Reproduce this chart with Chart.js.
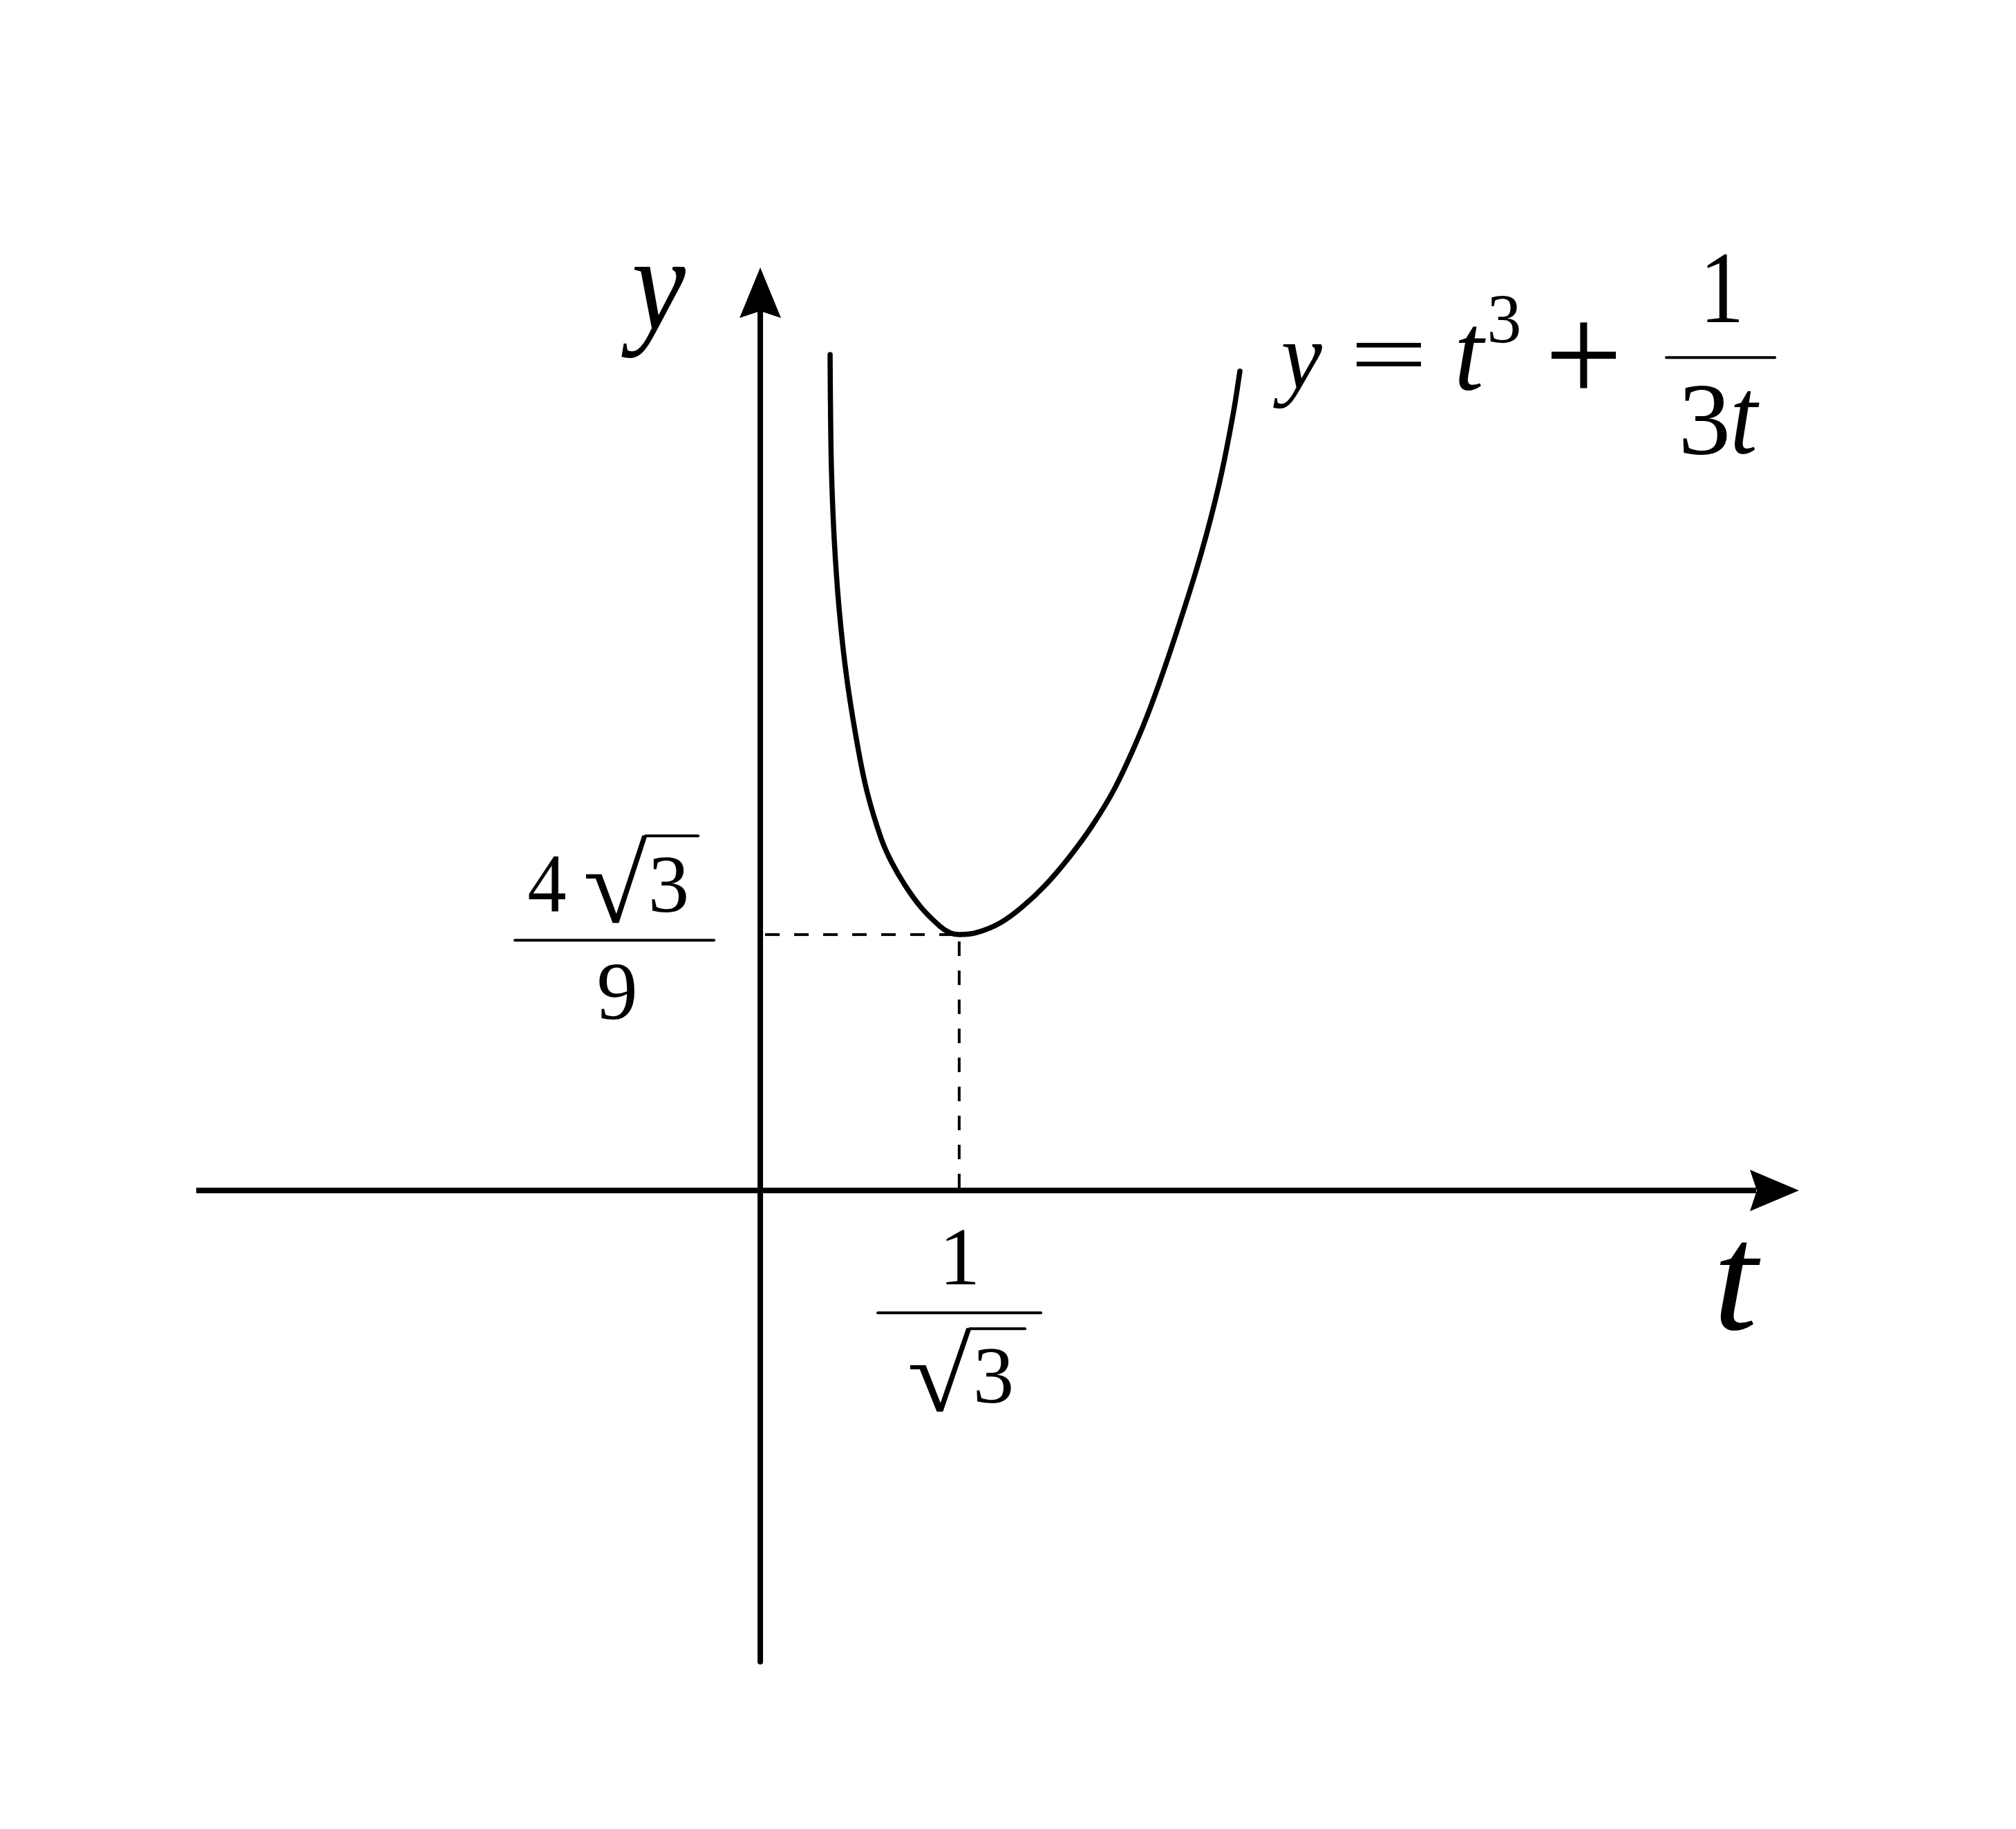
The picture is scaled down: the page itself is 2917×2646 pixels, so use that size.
<!DOCTYPE html>
<html>
<head>
<meta charset="utf-8">
<script src="https://cdn.jsdelivr.net/npm/chart.js@4.4.1/dist/chart.umd.min.js"></script>
<style>
  html, body { margin: 0; padding: 0; background: #fff; }
  canvas { display: block; }
</style>
</head>
<body>
<canvas id="graph" width="2917" height="2646"></canvas>
<script>
const tValues = [0.2025, 0.2035, 0.2065, 0.2145, 0.2286, 0.2506, 0.2827, 0.3107, 0.3508, 0.3809, 0.4190, 0.4671, 0.5213, 0.5513, 0.5774, 0.6275, 0.6957, 0.7618, 0.8280, 0.8962, 0.9623, 1.0285, 1.0966, 1.1488, 1.2169, 1.2791, 1.3312, 1.3713, 1.3913];
const yValues = [2.516, 2.376, 2.168, 1.960, 1.752, 1.544, 1.336, 1.196, 1.059, 0.988, 0.920, 0.851, 0.795, 0.775, 0.770, 0.776, 0.805, 0.855, 0.920, 1.003, 1.097, 1.211, 1.363, 1.502, 1.710, 1.918, 2.127, 2.335, 2.466];

// minimum point: t = 1/sqrt(3), y = 4*sqrt(3)/9
const tMin = 0.577;
const yMin = 0.770;

// axis extents
const tRange = [-1.636, 3.013];
const yRange = [-1.427, 2.778];

const FONT = '"Liberation Serif", "Times New Roman", serif';

// draw a glyph stretched to fill a box (offsets from origin)
function fit(ctx, text, style, ox, oy, b) {
  const base = 200;
  ctx.save();
  ctx.font = style + ' ' + base + 'px ' + FONT;
  ctx.textAlign = 'left';
  ctx.textBaseline = 'alphabetic';
  const m = ctx.measureText(text);
  const w = m.actualBoundingBoxLeft + m.actualBoundingBoxRight;
  const h = m.actualBoundingBoxAscent + m.actualBoundingBoxDescent;
  ctx.translate(ox + b[0], oy + b[1]);
  ctx.scale((b[2] - b[0]) / w, (b[3] - b[1]) / h);
  ctx.fillText(text, m.actualBoundingBoxLeft, m.actualBoundingBoxAscent);
  ctx.restore();
}

function bar(ctx, ox, oy, x0, x1, y, lw) {
  ctx.lineWidth = lw;
  ctx.beginPath();
  ctx.moveTo(ox + x0, oy + y);
  ctx.lineTo(ox + x1, oy + y);
  ctx.stroke();
}

const decor = {
  id: 'decor',
  afterDatasetsDraw(chart) {
    const ctx = chart.ctx;
    const xs = chart.scales.x, ys = chart.scales.y;
    const ox = xs.getPixelForValue(0), oy = ys.getPixelForValue(0);
    const left = xs.getPixelForValue(tRange[0]), right = xs.getPixelForValue(tRange[1]);
    const top = ys.getPixelForValue(yRange[1]), bottom = ys.getPixelForValue(yRange[0]);
    ctx.save();
    ctx.strokeStyle = '#000';
    ctx.fillStyle = '#000';

    // axes
    ctx.lineWidth = 8;
    ctx.lineCap = 'butt';
    ctx.beginPath();
    ctx.moveTo(left, oy);
    ctx.lineTo(right - 62, oy);
    ctx.stroke();
    ctx.lineCap = 'round';
    ctx.beginPath();
    ctx.moveTo(ox, bottom - 4);
    ctx.lineTo(ox, top + 63);
    ctx.stroke();

    // arrow heads
    ctx.beginPath();
    ctx.moveTo(right, oy);
    ctx.lineTo(right - 71, oy - 30);
    ctx.lineTo(right - 61, oy);
    ctx.lineTo(right - 71, oy + 30);
    ctx.closePath();
    ctx.fill();
    ctx.beginPath();
    ctx.moveTo(ox, top);
    ctx.lineTo(ox - 30, top + 73);
    ctx.lineTo(ox, top + 63);
    ctx.lineTo(ox + 30, top + 73);
    ctx.closePath();
    ctx.fill();

    // axis names
    fit(ctx, 'y', 'italic', ox, oy, [-201, -1336, -108, -1204]);
    fit(ctx, 't', 'italic', ox, oy, [1388, 75, 1448, 203]);

    // 4√3 / 9
    bar(ctx, ox, oy, -355, -67, -362, 4);
    fit(ctx, '4', '', ox, oy, [-335, -484, -282, -404]);
    fit(ctx, '\u221A', '', ox, oy, [-253, -515, -163, -387]);
    bar(ctx, ox, oy, -166, -90, -513, 4);
    fit(ctx, '3', '', ox, oy, [-157, -482, -107, -402]);
    fit(ctx, '9', '', ox, oy, [-233, -327, -182, -247]);

    // 1 / √3
    bar(ctx, ox, oy, 170, 406, 177, 4);
    fit(ctx, '1', '', ox, oy, [269, 58, 311, 136]);
    fit(ctx, '\u221A', '', ox, oy, [216, 198, 306, 320]);
    bar(ctx, ox, oy, 303, 383, 200, 4);
    fit(ctx, '3', '', ox, oy, [313, 230, 363, 308]);

    // y = t^3 + 1/(3t)
    fit(ctx, 'y', 'italic', ox, oy, [742, -1224, 813, -1131]);
    fit(ctx, '=', '', ox, oy, [862, -1226, 957, -1192]);
    fit(ctx, 't', 'italic', ox, oy, [1010, -1251, 1050, -1158]);
    fit(ctx, '3', '', ox, oy, [1056, -1293, 1098, -1225]);
    fit(ctx, '+', '', ox, oy, [1144, -1256, 1239, -1160]);
    bar(ctx, ox, oy, 1311, 1468, -1205, 4);
    fit(ctx, '1', '', ox, oy, [1370, -1354, 1416, -1256]);
    fit(ctx, '3', '', ox, oy, [1335, -1164, 1399, -1064]);
    fit(ctx, 't', 'italic', ox, oy, [1409, -1157, 1446, -1066]);

    ctx.restore();
  }
};

const curve = tValues.map((t, i) => ({ x: t, y: yValues[i] }));

new Chart(document.getElementById('graph').getContext('2d'), {
  type: 'scatter',
  data: {
    datasets: [
      {
        data: [{ x: 0, y: yMin }, { x: tMin, y: yMin }],
        showLine: true,
        borderColor: '#000',
        borderWidth: 4,
        borderDash: [21, 21],
        borderDashOffset: 35,
        pointRadius: 0,
      },
      {
        data: [{ x: tMin, y: yMin }, { x: tMin, y: 0 }],
        showLine: true,
        borderColor: '#000',
        borderWidth: 4,
        borderDash: [21, 21],
        borderDashOffset: 32,
        pointRadius: 0,
      },
      {
        data: curve,
        showLine: true,
        borderColor: '#000',
        borderWidth: 7.5,
        borderCapStyle: 'round',
        borderJoinStyle: 'round',
        tension: 0.4,
        pointRadius: 0,
      },
    ],
  },
  options: {
    responsive: false,
    animation: false,
    layout: { padding: { left: 284, right: 314, top: 387, bottom: 238 } },
    scales: {
      x: { type: 'linear', min: tRange[0], max: tRange[1], display: false },
      y: { type: 'linear', min: yRange[0], max: yRange[1], display: false },
    },
    plugins: {
      legend: { display: false },
      tooltip: { enabled: false },
    },
  },
  plugins: [decor],
});
</script>
</body>
</html>
